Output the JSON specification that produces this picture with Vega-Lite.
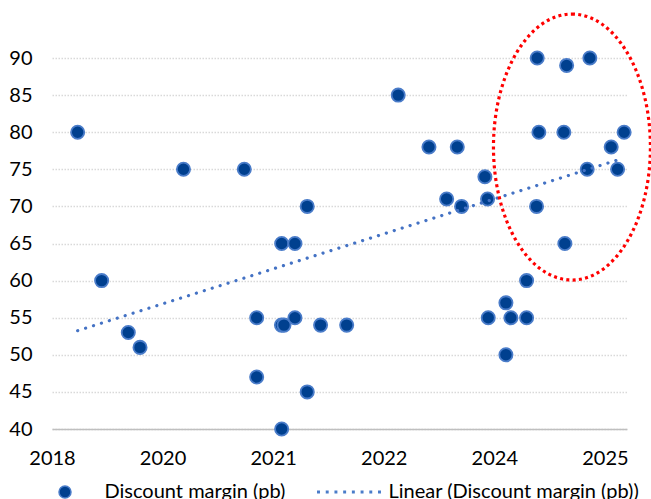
{
  "$schema": "https://vega.github.io/schema/vega-lite/v6.json",
  "autosize": {"type": "none"},
  "width": 575,
  "height": 371,
  "padding": {"left": 52, "top": 58, "right": 24, "bottom": 70},
  "background": "white",
  "config": {
    "view": {"stroke": null},
    "font": "Lato",
    "axis": {"labelFont": "Lato", "labelFontSize": 20, "labelColor": "#000000", "title": null, "labelOverlap": false}
  },
  "datasets": {
    "points": [
      {"x": 0.232, "y": 80, "series": "Discount margin (pb)"},
      {"x": 0.449, "y": 60, "series": "Discount margin (pb)"},
      {"x": 0.690, "y": 53, "series": "Discount margin (pb)"},
      {"x": 0.796, "y": 51, "series": "Discount margin (pb)"},
      {"x": 1.189, "y": 75, "series": "Discount margin (pb)"},
      {"x": 1.739, "y": 75, "series": "Discount margin (pb)"},
      {"x": 1.851, "y": 55, "series": "Discount margin (pb)"},
      {"x": 1.851, "y": 47, "series": "Discount margin (pb)"},
      {"x": 2.077, "y": 65, "series": "Discount margin (pb)"},
      {"x": 2.077, "y": 40, "series": "Discount margin (pb)"},
      {"x": 2.075, "y": 54, "series": "Discount margin (pb)"},
      {"x": 2.098, "y": 54, "series": "Discount margin (pb)"},
      {"x": 2.197, "y": 65, "series": "Discount margin (pb)"},
      {"x": 2.197, "y": 55, "series": "Discount margin (pb)"},
      {"x": 2.308, "y": 70, "series": "Discount margin (pb)"},
      {"x": 2.308, "y": 45, "series": "Discount margin (pb)"},
      {"x": 2.429, "y": 54, "series": "Discount margin (pb)"},
      {"x": 2.665, "y": 54, "series": "Discount margin (pb)"},
      {"x": 3.131, "y": 85, "series": "Discount margin (pb)"},
      {"x": 3.409, "y": 78, "series": "Discount margin (pb)"},
      {"x": 3.569, "y": 71, "series": "Discount margin (pb)"},
      {"x": 3.665, "y": 78, "series": "Discount margin (pb)"},
      {"x": 3.704, "y": 70, "series": "Discount margin (pb)"},
      {"x": 3.915, "y": 74, "series": "Discount margin (pb)"},
      {"x": 3.939, "y": 71, "series": "Discount margin (pb)"},
      {"x": 3.945, "y": 55, "series": "Discount margin (pb)"},
      {"x": 4.105, "y": 57, "series": "Discount margin (pb)"},
      {"x": 4.105, "y": 50, "series": "Discount margin (pb)"},
      {"x": 4.150, "y": 55, "series": "Discount margin (pb)"},
      {"x": 4.292, "y": 55, "series": "Discount margin (pb)"},
      {"x": 4.292, "y": 60, "series": "Discount margin (pb)"},
      {"x": 4.388, "y": 90, "series": "Discount margin (pb)"},
      {"x": 4.403, "y": 80, "series": "Discount margin (pb)"},
      {"x": 4.382, "y": 70, "series": "Discount margin (pb)"},
      {"x": 4.654, "y": 89, "series": "Discount margin (pb)"},
      {"x": 4.629, "y": 80, "series": "Discount margin (pb)"},
      {"x": 4.638, "y": 65, "series": "Discount margin (pb)"},
      {"x": 4.864, "y": 90, "series": "Discount margin (pb)"},
      {"x": 4.840, "y": 75, "series": "Discount margin (pb)"},
      {"x": 5.057, "y": 78, "series": "Discount margin (pb)"},
      {"x": 5.174, "y": 80, "series": "Discount margin (pb)"},
      {"x": 5.115, "y": 75, "series": "Discount margin (pb)"}
    ],
    "trend": [
      {"x": 0.232, "y": 53.25},
      {"x": 5.115, "y": 76.25}
    ],
    "highlight": [
      {"x": 4.702, "y": 78.0}
    ]
  },
  "layer": [
    {
      "data": {"name": "points"},
      "mark": {"type": "point", "filled": true, "size": 175, "stroke": "#4A7CC9", "strokeWidth": 1.8, "opacity": 1},
      "encoding": {
        "x": {
          "field": "x", "type": "quantitative",
          "scale": {"domain": [0, 5.2], "nice": false, "zero": false},
          "axis": {
            "values": [0, 1, 2, 3, 4, 5],
            "tickCount": 20,
            "labelExpr": "['2018','2020','2021','2022','2024','2025'][round(datum.value)]",
            "grid": false, "ticks": false, "tickSize": 0,
            "domain": true, "domainColor": "#BFBFBF", "domainWidth": 1.5,
            "labelPadding": 19, "labelFlush": false
          }
        },
        "y": {
          "field": "y", "type": "quantitative",
          "scale": {"domain": [40, 90], "nice": false, "zero": false},
          "axis": {
            "values": [40, 45, 50, 55, 60, 65, 70, 75, 80, 85, 90],
            "tickCount": 20,
            "grid": true, "gridColor": "#D9D9D9", "gridDash": [1.5, 1.5], "gridWidth": 1.3,
            "domain": false, "ticks": false, "tickSize": 0, "labelPadding": 20
          }
        },
        "color": {
          "field": "series", "type": "nominal",
          "scale": {"domain": ["Discount margin (pb)", "Linear (Discount margin (pb))"], "range": ["#00408F", "#4472C4"]},
          "legend": {
            "title": null,
            "orient": "none",
            "direction": "horizontal",
            "legendX": 3,
            "legendY": 424,
            "symbolSize": 144,
            "labelFont": "Lato",
            "labelFontSize": 20,
            "labelColor": "#000000",
            "labelOffset": 29.5,
            "columnPadding": 28,
            "labelLimit": 400,
            "padding": 0
          }
        },
        "shape": {
          "field": "series", "type": "nominal",
          "scale": {
            "domain": ["Discount margin (pb)", "Linear (Discount margin (pb))"],
            "range": ["circle", "M-5.203,-0.12h0.24v0.24h-0.24zM-3.751,-0.12h0.24v0.24h-0.24zM-2.298,-0.12h0.24v0.24h-0.24zM-0.846,-0.12h0.24v0.24h-0.24zM0.606,-0.12h0.24v0.24h-0.24zM2.058,-0.12h0.24v0.24h-0.24zM3.511,-0.12h0.24v0.24h-0.24zM4.963,-0.12h0.24v0.24h-0.24z"]
          },
          "legend": {
            "title": null,
            "orient": "none",
            "direction": "horizontal",
            "legendX": 3,
            "legendY": 424,
            "symbolSize": 144,
            "labelFont": "Lato",
            "labelFontSize": 20,
            "labelColor": "#000000",
            "labelOffset": 29.5,
            "columnPadding": 28,
            "labelLimit": 400,
            "padding": 0
          }
        }
      }
    },
    {
      "data": {"name": "trend"},
      "mark": {"type": "line", "color": "#4472C4", "strokeWidth": 3.2, "strokeDash": [0.1, 8.2], "strokeCap": "round", "clip": false},
      "encoding": {
        "x": {"field": "x", "type": "quantitative"},
        "y": {"field": "y", "type": "quantitative"}
      }
    },
    {
      "data": {"name": "highlight"},
      "mark": {
        "type": "point", "filled": false, "clip": false,
        "shape": "M0,-1C0.326,-1 0.59,-0.552 0.59,0C0.59,0.552 0.326,1 0,1C-0.326,1 -0.59,0.552 -0.59,0C-0.59,-0.552 -0.326,-1 0,-1Z",
        "size": 70756, "stroke": "#FF0000", "strokeWidth": 3.2, "strokeDash": [3, 3.3], "opacity": 1
      },
      "encoding": {
        "x": {"field": "x", "type": "quantitative"},
        "y": {"field": "y", "type": "quantitative"}
      }
    }
  ]
}
